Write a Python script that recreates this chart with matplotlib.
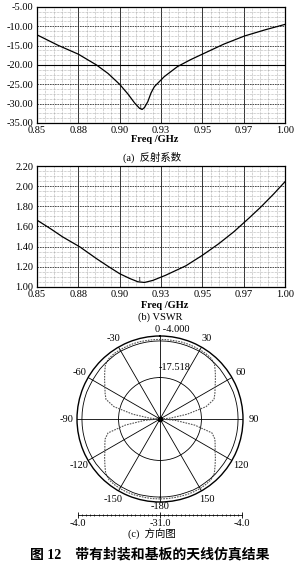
import numpy as np
import matplotlib
matplotlib.use('Agg')
import matplotlib.pyplot as plt
from matplotlib.ticker import MultipleLocator, AutoMinorLocator

plt.rcParams['font.family'] = ['Liberation Serif', 'Noto Sans CJK SC']

# (a) reflection coefficient
s11_freq = [0.85, 0.8627, 0.875, 0.886, 0.893, 0.900, 0.905, 0.909, 0.912,
            0.9136, 0.915, 0.917, 0.919, 0.921, 0.927, 0.935, 0.943, 0.951,
            0.963, 0.9755, 0.988, 1.00]
s11_db = [-12.2, -14.9, -17.2, -20.0, -22.2, -25.0, -27.5, -29.8, -31.2,
          -31.5, -31.0, -29.5, -27.2, -25.6, -23.0, -20.4, -18.6, -17.0,
          -14.6, -12.5, -10.9, -9.5]

# (b) VSWR
vswr_freq = [0.85, 0.858, 0.8655, 0.876, 0.886, 0.893, 0.900, 0.906, 0.911,
             0.915, 0.920, 0.9276, 0.940, 0.950, 0.960, 0.969, 0.978, 0.9855,
             0.993, 1.00]
vswr_val = [1.663, 1.580, 1.497, 1.397, 1.281, 1.205, 1.132, 1.085, 1.052,
            1.045, 1.065, 1.115, 1.210, 1.314, 1.430, 1.547, 1.680, 1.795,
            1.920, 2.044]

freq_ticks = [0.85, 0.875, 0.90, 0.925, 0.95, 0.975, 1.00]
freq_labels = ['0.85', '0.88', '0.90', '0.93', '0.95', '0.97', '1.00']
s11_ticks = [-35, -30, -25, -20, -15, -10, -5]
s11_labels = ['-35.00', '-30.00', '-25.00', '-20.00', '-15.00', '-10.00', '-5.00']
vswr_ticks = [1.0, 1.2, 1.4, 1.6, 1.8, 2.0, 2.2]
vswr_labels = ['1.00', '1.20', '1.40', '1.60', '1.80', '2.00', '2.20']

# (c) radiation pattern (dB), angle in degrees, 5 degree steps
pat_angle = list(range(-180, 185, 5))
pat_lobe = [-5.0, -5.0, -5.0, -5.0, -4.9, -4.9, -4.9, -5.0, -5.2, -6.0,
            -7.6, -9.0, -10.3, -11.2, -12.0, -13.5, -19.5, -26.0, -30.5,
            -27.5, -22.0, -15.5, -12.3, -11.3, -10.3, -9.0, -7.5, -5.9,
            -5.2, -5.0, -5.0, -5.0, -5.0, -5.0, -5.1, -5.1, -5.1,
            -5.1, -5.1, -5.0, -5.0, -5.0, -5.0, -5.0, -5.2, -5.9,
            -7.5, -9.0, -10.3, -11.3, -12.3, -15.5, -22.0, -27.5, -30.5,
            -26.0, -19.5, -13.5, -12.0, -11.2, -10.3, -9.0, -7.6, -6.0,
            -5.2, -5.0, -4.9, -4.9, -4.9, -5.0, -5.0, -5.0, -5.0]
pat_omni = [-5.6, -5.6, -5.6, -5.5, -5.5, -5.6, -5.6, -5.6, -5.7, -5.7,
            -5.7, -5.6, -5.6, -5.6, -5.6, -5.6, -5.6, -5.6, -5.6,
            -5.6, -5.6, -5.6, -5.6, -5.7, -5.7, -5.7, -5.6, -5.6,
            -5.6, -5.5, -5.5, -5.6, -5.6, -5.6, -5.6, -5.6, -5.6,
            -5.6, -5.6, -5.6, -5.6, -5.6, -5.5, -5.5, -5.6, -5.6,
            -5.6, -5.7, -5.7, -5.7, -5.6, -5.6, -5.6, -5.6, -5.6,
            -5.6, -5.6, -5.6, -5.6, -5.6, -5.7, -5.7, -5.7, -5.6,
            -5.6, -5.6, -5.5, -5.5, -5.6, -5.6, -5.6, -5.6, -5.6]
r_min, r_max, r_mid = -31.0, -4.0, -17.518
theta_ticks = [0, 30, 60, 90, 120, 150, 180, 210, 240, 270, 300, 330]
theta_labels = ['', '30', '60', '90', '120', '150', '-180', '-150', '-120',
                '-90', '-60', '-30']

W, H = 300, 572
fig = plt.figure(figsize=(W / 100, H / 100), dpi=100)


def box(l, t, r, b):
    return [l / W, 1 - b / H, (r - l) / W, (b - t) / H]


def cart(ax, x, y, ticks_y, labels_y, ylim):
    ax.plot(x, y, color='black', lw=0.9)
    ax.set_xlim(0.85, 1.0)
    ax.set_ylim(*ylim)
    ax.set_xticks(freq_ticks)
    ax.set_xticklabels(freq_labels)
    ax.set_yticks(ticks_y)
    ax.set_yticklabels(labels_y)
    ax.xaxis.set_minor_locator(AutoMinorLocator(5))
    ax.yaxis.set_minor_locator(AutoMinorLocator(4))
    ax.grid(which='major', axis='x', color='#333333', lw=0.7, ls='-')
    ax.grid(which='major', axis='y', color='#333333', lw=0.6, ls=(0, (2, 1)))
    ax.grid(which='minor', color='#777777', lw=0.4, ls=(0, (1, 1.5)))
    ax.tick_params(which='both', length=0, labelsize=7.5, pad=2.5)
    for s in ax.spines.values():
        s.set_linewidth(0.9)


ax1 = fig.add_axes(box(37, 7, 285, 123))
cart(ax1, s11_freq, s11_db, s11_ticks, s11_labels, (-35, -5))
ax1.axhline(-20, color='black', lw=0.8)
ax1.text(0.9125, -31.0, '1', fontsize=5, ha='center', va='center')

ax2 = fig.add_axes(box(37, 166, 285, 287))
cart(ax2, vswr_freq, vswr_val, vswr_ticks, vswr_labels, (1.0, 2.2))
ax2.text(0.912, 1.07, '1', fontsize=5, ha='center', va='center')


def ftext(x, y, s, **kw):
    fig.text(x / W, 1 - y / H, s, ha='center', va='center', **kw)


ftext(155, 140, 'Freq /GHz', fontsize=7.5, fontweight='bold')
ftext(152, 157, '(a)  反射系数', fontsize=7.5)
ftext(165, 306, 'Freq /GHz', fontsize=7.5, fontweight='bold')
ftext(160, 317, '(b) VSWR', fontsize=7.5)

# polar pattern
ax3 = fig.add_axes(box(77, 336, 243, 502), projection='polar')
th = np.deg2rad(pat_angle)
ax3.plot(th, pat_lobe, color='#555555', lw=0.8, ls=(0, (1.5, 1)))
ax3.plot(th, pat_omni, color='black', lw=0.6)
ax3.set_theta_zero_location('N')
ax3.set_theta_direction(-1)
ax3.set_ylim(r_min, r_max)
ax3.set_thetagrids(theta_ticks, [''] * len(theta_ticks))
ax3.set_rgrids([r_mid], [''])
ax3.grid(color='black', lw=0.6, ls='-')
ax3.spines['polar'].set_linewidth(1.0)
ax3.plot([0], [r_min], 'o', color='black', ms=3)
for ang, lab in zip(theta_ticks, theta_labels):
    rr = -2.6 if ang == 180 else -0.6
    ax3.text(np.deg2rad(ang), rr, lab, fontsize=7.5, ha='center',
             va='center', clip_on=False)
ftext(172, 329, '0 -4.000', fontsize=7.5)
ftext(175, 367, '-17.518', fontsize=7.5)

# linear scale under polar plot
ax4 = fig.add_axes(box(78, 514, 242, 515))
ax4.set_xlim(-1, 1)
ax4.set_yticks([])
for k in ['top', 'left', 'right']:
    ax4.spines[k].set_visible(False)
ax4.spines['bottom'].set_linewidth(0.6)
ax4.set_xticks([-1, 0, 1])
ax4.set_xticklabels(['-4.0', '-31.0', '-4.0'])
ax4.xaxis.set_minor_locator(MultipleLocator(0.05))
ax4.tick_params(which='major', direction='inout', length=4, width=0.6,
                labelsize=7.5, pad=1)
ax4.tick_params(which='minor', direction='inout', length=2, width=0.5)
ax4.patch.set_alpha(0)

ftext(152, 534, '(c)  方向图', fontsize=7.5)
ftext(150, 555, '图 12    带有封装和基板的天线仿真结果', fontsize=10,
      fontweight='bold')

fig.savefig('out.png', dpi=100)
